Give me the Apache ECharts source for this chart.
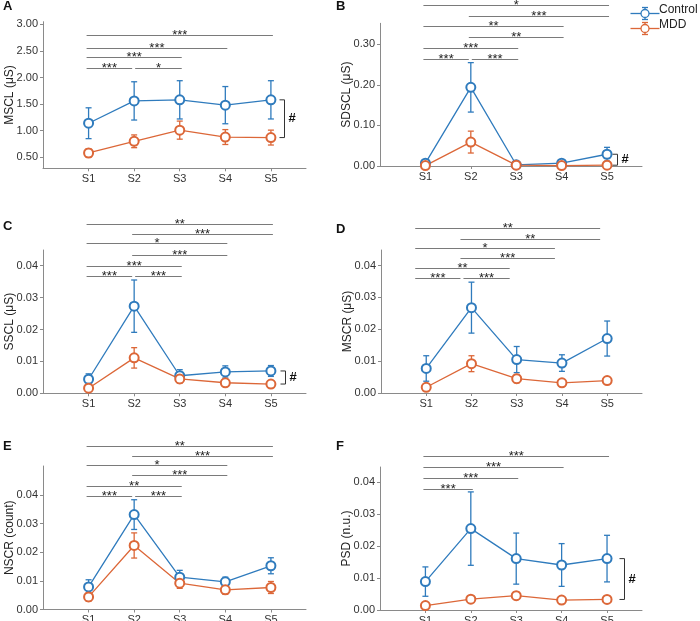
<!DOCTYPE html>
<html><head><meta charset="utf-8">
<script src="https://cdn.jsdelivr.net/npm/echarts@6/dist/echarts.min.js"></script>
<style>html,body{margin:0;padding:0;background:#fff}#c{width:700px;height:621px}</style>
</head><body><div id="c"></div>
<script>
// ---------- DATA ----------
const categories = ['S1', 'S2', 'S3', 'S4', 'S5'];
const groupNames = ['Control', 'MDD'];

// A: MSCL (μS)
const msclControl    = [1.14, 1.56, 1.58, 1.48, 1.58];
const msclControlErr = [0.29, 0.36, 0.36, 0.35, 0.36];
const msclMdd        = [0.58, 0.80, 1.01, 0.88, 0.87];
const msclMddErr     = [0.08, 0.12, 0.17, 0.14, 0.14];
const msclTicks      = [0.5, 1.0, 1.5, 2.0, 2.5, 3.0];
const msclSig        = [[1, 5, '***', 2.80], [1, 4, '***', 2.56], [1, 3, '***', 2.38], [1, 2, '***', 2.17], [2, 3, '*', 2.17]];

// B: SDSCL (μS)
const sdsclControl    = [0.007, 0.194, 0.003, 0.007, 0.029];
const sdsclControlErr = [0.003, 0.061, 0.002, 0.003, 0.017];
const sdsclMdd        = [0.001, 0.059, 0.002, 0.001, 0.002];
const sdsclMddErr     = [0.001, 0.027, 0.001, 0.001, 0.001];
const sdsclTicks      = [0.0, 0.1, 0.2, 0.3];
const sdsclSig        = [[1, 5, '*', 0.397], [2, 5, '***', 0.370], [1, 4, '**', 0.345], [2, 4, '**', 0.317], [1, 3, '***', 0.290], [1, 2, '***', 0.263], [2, 3, '***', 0.263]];

// C: SSCL (μS)
const ssclControl    = [0.0044, 0.0273, 0.0055, 0.0067, 0.0070];
const ssclControlErr = [0.0017, 0.0082, 0.0019, 0.0019, 0.0017];
const ssclMdd        = [0.0016, 0.0111, 0.0045, 0.0033, 0.0029];
const ssclMddErr     = [0.0007, 0.0032, 0.0013, 0.0010, 0.0005];
const ssclTicks      = [0.00, 0.01, 0.02, 0.03, 0.04];
const ssclSig        = [[1, 5, '**', 0.0531], [2, 5, '***', 0.0500], [1, 4, '*', 0.0470], [2, 4, '***', 0.0433], [1, 3, '***', 0.0400], [1, 2, '***', 0.0367], [2, 3, '***', 0.0367]];

// D: MSCR (μS)
const mscrControl    = [0.0077, 0.0268, 0.0105, 0.0094, 0.0171];
const mscrControlErr = [0.0040, 0.0080, 0.0041, 0.0026, 0.0055];
const mscrMdd        = [0.0018, 0.0092, 0.0045, 0.0032, 0.0039];
const mscrMddErr     = [0.0006, 0.0025, 0.0013, 0.0006, 0.0007];
const mscrTicks      = [0.00, 0.01, 0.02, 0.03, 0.04];
const mscrSig        = [[1, 5, '**', 0.0518], [2, 5, '**', 0.0485], [1, 4, '*', 0.0455], [2, 4, '***', 0.0424], [1, 3, '**', 0.0393], [1, 2, '***', 0.0360], [2, 3, '***', 0.0360]];

// E: NSCR (count)
const nscrControl    = [0.0079, 0.0332, 0.0113, 0.0097, 0.0153];
const nscrControlErr = [0.0025, 0.0052, 0.0024, 0.0016, 0.0028];
const nscrMdd        = [0.0044, 0.0224, 0.0092, 0.0069, 0.0077];
const nscrMddErr     = [0.0015, 0.0044, 0.0018, 0.0016, 0.0021];
const nscrTicks      = [0.00, 0.01, 0.02, 0.03, 0.04];
const nscrSig        = [[1, 5, '**', 0.0573], [2, 5, '***', 0.0536], [1, 4, '*', 0.0506], [2, 4, '***', 0.0471], [1, 3, '**', 0.0433], [1, 2, '***', 0.0397], [2, 3, '***', 0.0397]];

// F: PSD (n.u.)
const psdControl    = [0.0089, 0.0255, 0.0161, 0.0141, 0.0161];
const psdControlErr = [0.0046, 0.0115, 0.0080, 0.0067, 0.0073];
const psdMdd        = [0.0014, 0.0034, 0.0045, 0.0031, 0.0033];
const psdMddErr     = [0.0004, 0.0003, 0.0012, 0.0004, 0.0008];
const psdTicks      = [0.00, 0.01, 0.02, 0.03, 0.04];
const psdSig        = [[1, 5, '***', 0.0483], [1, 4, '***', 0.0447], [1, 3, '***', 0.0413], [1, 2, '***', 0.0378]];

// ---------- PANELS ----------
const panels = [
  { letter: 'A', yName: 'MSCL (μS)',    ctrl: msclControl,  ctrlErr: msclControlErr,  mdd: msclMdd,  mddErr: msclMddErr,  ticks: msclTicks,  dec: 2, sig: msclSig,  bracket: true },
  { letter: 'B', yName: 'SDSCL (μS)',   ctrl: sdsclControl, ctrlErr: sdsclControlErr, mdd: sdsclMdd, mddErr: sdsclMddErr, ticks: sdsclTicks, dec: 2, sig: sdsclSig, bracket: true },
  { letter: 'C', yName: 'SSCL (μS)',    ctrl: ssclControl,  ctrlErr: ssclControlErr,  mdd: ssclMdd,  mddErr: ssclMddErr,  ticks: ssclTicks,  dec: 2, sig: ssclSig,  bracket: true },
  { letter: 'D', yName: 'MSCR (μS)',    ctrl: mscrControl,  ctrlErr: mscrControlErr,  mdd: mscrMdd,  mddErr: mscrMddErr,  ticks: mscrTicks,  dec: 2, sig: mscrSig,  bracket: false },
  { letter: 'E', yName: 'NSCR (count)', ctrl: nscrControl,  ctrlErr: nscrControlErr,  mdd: nscrMdd,  mddErr: nscrMddErr,  ticks: nscrTicks,  dec: 2, sig: nscrSig,  bracket: false },
  { letter: 'F', yName: 'PSD (n.u.)',   ctrl: psdControl,   ctrlErr: psdControlErr,   mdd: psdMdd,   mddErr: psdMddErr,   ticks: psdTicks,   dec: 2, sig: psdSig,   bracket: true }
];

// layout (pixels) per panel
const layout = [
  { left: 43,  top: 21.7, width: 263, height: 146.6, yMin: 0.292, yMax: 3.05,   lx: 3,   ly: 7,   bracketDx: 13, sigDx: 0 },
  { left: 380, top: 23.3, width: 262, height: 142.7, yMin: 0,     yMax: 0.352,  lx: 336, ly: 7,   bracketDx: 10, sigDx: 0 },
  { left: 43,  top: 250,  width: 263, height: 143.3, yMin: 0,     yMax: 0.0449, lx: 3,   ly: 227, bracketDx: 14, sigDx: 0 },
  { left: 381, top: 250,  width: 261, height: 143,   yMin: 0,     yMax: 0.0449, lx: 336, ly: 230, bracketDx: 14, sigDx: -9 },
  { left: 43,  top: 466,  width: 263, height: 143.5, yMin: 0,     yMax: 0.0502, lx: 3,   ly: 447, bracketDx: 14, sigDx: 0 },
  { left: 380, top: 467,  width: 262, height: 143,   yMin: 0,     yMax: 0.0448, lx: 336, ly: 447, bracketDx: 17, sigDx: 0 }
];

const BLUE = '#2f7bbd';
const ORANGE = '#dc6738';
const AXIS = '#8a8a8a';
const LABEL = '#333';
const FONT = "'Liberation Sans', Arial, sans-serif";
const catValues = categories.map((c, i) => i + 1);

function errRender(params, api) {
  const x = api.value(0), lo = api.value(1), hi = api.value(2);
  const pLo = api.coord([x, lo]), pHi = api.coord([x, hi]);
  const c = 3;
  const style = { stroke: api.visual('color'), lineWidth: 1.3 };
  return { type: 'group', children: [
    { type: 'line', shape: { x1: pLo[0], y1: pLo[1], x2: pHi[0], y2: pHi[1] }, style },
    { type: 'line', shape: { x1: pLo[0] - c, y1: pLo[1], x2: pLo[0] + c, y2: pLo[1] }, style },
    { type: 'line', shape: { x1: pHi[0] - c, y1: pHi[1], x2: pHi[0] + c, y2: pHi[1] }, style }
  ] };
}

function makeSigRender(sig, dx) {
  return function (params, api) {
    const s = sig[params.dataIndex];
    const a = s[0], b = s[1], label = s[2], y = s[3];
    const pa = api.coord([a, y]), pb = api.coord([b, y]);
    let x1 = pa[0] - 2 + dx, x2 = pb[0] + 2 + dx;
    if (sig.some(t => t[3] === y && t[0] === b)) x2 = pb[0] - 2 + dx;
    if (sig.some(t => t[3] === y && t[1] === a)) x1 = pa[0] + 1 + dx;
    const yy = Math.round(pa[1]) + 0.5;
    return { type: 'group', children: [
      { type: 'line', shape: { x1: x1, y1: yy, x2: x2, y2: yy }, style: { stroke: '#7a7a7a', lineWidth: 1 } },
      { type: 'text', style: { text: label, x: (x1 + x2) / 2, y: yy - 0.5, align: 'center', verticalAlign: 'middle',
          font: '13px ' + FONT, fill: '#222' } }
    ] };
  };
}

function makeBracketRender(dx) {
  return function (params, api) {
    const x = api.value(0), top = api.value(1), bot = api.value(2);
    const pt = api.coord([x, top]), pb = api.coord([x, bot]);
    const vx = Math.round(pt[0] + dx) + 0.5;
    const style = { stroke: '#333', lineWidth: 1 };
    return { type: 'group', children: [
      { type: 'line', shape: { x1: vx - 5, y1: pt[1], x2: vx, y2: pt[1] }, style },
      { type: 'line', shape: { x1: vx, y1: pt[1], x2: vx, y2: pb[1] }, style },
      { type: 'line', shape: { x1: vx - 5, y1: pb[1], x2: vx, y2: pb[1] }, style },
      { type: 'text', style: { text: '#', x: vx + 4, y: (pt[1] + pb[1]) / 2, align: 'left', verticalAlign: 'middle',
          font: 'bold 13px ' + FONT, fill: '#111' } }
    ] };
  };
}

const grid = [], xAxis = [], yAxis = [], series = [], graphic = [];

panels.forEach((p, i) => {
  const L = layout[i];
  grid.push({ left: L.left, top: L.top, width: L.width, height: L.height, containLabel: false, outerBoundsMode: 'none' });
  xAxis.push({
    type: 'value', gridIndex: i, min: 0, max: 5.77,
    splitLine: { show: false },
    axisLine: { show: true, lineStyle: { color: AXIS, width: 1 } },
    axisTick: { show: true, length: 3, customValues: catValues, lineStyle: { color: AXIS } },
    axisLabel: { customValues: catValues, formatter: v => categories[Math.round(v) - 1] || '', margin: 5,
      fontSize: 11, color: LABEL, fontFamily: FONT }
  });
  yAxis.push({
    type: 'value', gridIndex: i, min: L.yMin, max: L.yMax,
    name: p.yName, nameLocation: 'middle', nameGap: 27, nameMoveOverlap: false,
    nameTextStyle: { fontSize: 12, color: '#222', fontFamily: FONT },
    splitLine: { show: false },
    axisLine: { show: true, lineStyle: { color: AXIS, width: 1 } },
    axisTick: { show: true, length: 3, customValues: p.ticks, lineStyle: { color: AXIS } },
    axisLabel: { customValues: p.ticks, formatter: v => v.toFixed(p.dec), margin: 5,
      fontSize: 11, color: LABEL, fontFamily: FONT }
  });

  // error bars
  [[p.ctrl, p.ctrlErr, BLUE, 'Control'], [p.mdd, p.mddErr, ORANGE, 'MDD']].forEach(([m, e, col, nm]) => {
    series.push({
      type: 'custom', name: nm + ' error', xAxisIndex: i, yAxisIndex: i, clip: false, silent: true,
      itemStyle: { color: col },
      encode: { x: 0, y: [1, 2] },
      data: m.map((v, k) => [k + 1, v - e[k], v + e[k]]),
      renderItem: errRender, z: 2
    });
  });
  // lines with hollow markers
  [[p.ctrl, BLUE, 'Control'], [p.mdd, ORANGE, 'MDD']].forEach(([m, col, nm]) => {
    series.push({
      type: 'line', name: nm, xAxisIndex: i, yAxisIndex: i,
      data: m.map((v, k) => [k + 1, v]),
      symbol: 'emptyCircle', symbolSize: 9, showSymbol: true,
      lineStyle: { color: col, width: 1.3 },
      itemStyle: { color: col, borderColor: col, borderWidth: 1.3 },
      z: 3, clip: false
    });
  });
  // significance bars
  series.push({
    type: 'custom', name: 'sig' + p.letter, xAxisIndex: i, yAxisIndex: i, clip: false, silent: true,
    encode: { x: [0, 1], y: 2 },
    data: p.sig.map(s => [s[0], s[1], s[3]]),
    renderItem: makeSigRender(p.sig, L.sigDx), z: 4
  });
  // group-difference bracket
  if (p.bracket) {
    series.push({
      type: 'custom', name: 'bracket' + p.letter, xAxisIndex: i, yAxisIndex: i, clip: false, silent: true,
      encode: { x: 0, y: [1, 2] },
      data: [[5, p.ctrl[4], p.mdd[4]]],
      renderItem: makeBracketRender(L.bracketDx), z: 4
    });
  }
  graphic.push({ type: 'text', left: L.lx, top: L.ly - 7, style: { text: p.letter, font: 'bold 13px ' + FONT, fill: '#111' } });
});

// legend (drawn with graphic: line + error bar + hollow circle)
[[BLUE, groupNames[0], 11], [ORANGE, groupNames[1], 26]].forEach(([col, txt, y]) => {
  graphic.push({ type: 'group', left: 628, top: y - 6, children: [
    { type: 'line', shape: { x1: 0, y1: 6, x2: 29, y2: 6 }, style: { stroke: col, lineWidth: 1.3 } },
    { type: 'line', shape: { x1: 14.5, y1: 0, x2: 14.5, y2: 12 }, style: { stroke: col, lineWidth: 1.3 } },
    { type: 'line', shape: { x1: 11.5, y1: 0, x2: 17.5, y2: 0 }, style: { stroke: col, lineWidth: 1.3 } },
    { type: 'line', shape: { x1: 11.5, y1: 12, x2: 17.5, y2: 12 }, style: { stroke: col, lineWidth: 1.3 } },
    { type: 'circle', shape: { cx: 14.5, cy: 6, r: 4 }, style: { fill: '#fff', stroke: col, lineWidth: 1.3 } }
  ] });
  graphic.push({ type: 'text', left: 659, top: y - 7, style: { text: txt, font: '12px ' + FONT, fill: '#222' } });
});

const chart = echarts.init(document.getElementById('c'), null, { renderer: 'canvas' });
chart.setOption({
  animation: false,
  backgroundColor: '#fff',
  textStyle: { fontFamily: FONT },
  grid, xAxis, yAxis, series, graphic
});
</script>
</body></html>
